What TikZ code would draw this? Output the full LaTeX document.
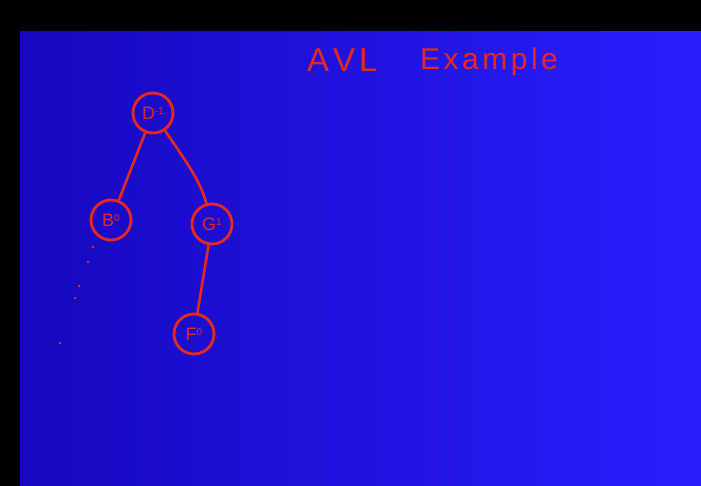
\documentclass[tikz,border=0pt]{standalone}
\usepackage{fontspec}
\setmainfont{Liberation Sans}
\definecolor{ink}{RGB}{232,40,30}
\definecolor{bgA}{RGB}{22,8,190}
\definecolor{bgB}{RGB}{42,30,255}
\newcommand{\bsup}[1]{\raisebox{5pt}{\fontsize{10}{10}\selectfont #1}}
\tikzset{
  tnode/.style={circle,draw=ink,line width=2.8pt,minimum size=40pt,inner sep=0pt,text=ink,font=\fontsize{18}{18}\selectfont},
  tedge/.style={draw=ink,line width=2.6pt},
  dot/.style={circle,fill=ink,inner sep=0pt,minimum size=2.8pt},
}
\begin{document}
\begin{tikzpicture}[x=1pt,y=-1pt]
\useasboundingbox (0,0) rectangle (701,486);
\fill[black] (0,0) rectangle (701,486);
\shade[left color=bgA,right color=bgB] (20,32) rectangle (701,486);
\node[text=ink,font=\fontsize{33}{33}\selectfont,anchor=base west,inner sep=0pt] (t1) at (307,72) {A\kern4pt V\kern4pt L};
\node[text=ink,font=\fontsize{30}{30}\selectfont,anchor=base west,inner sep=0pt] (t2) at (420,70) {E\kern3.5pt x\kern3.5pt a\kern3.5pt m\kern3.5pt p\kern3.5pt l\kern3.5pt e};
\node[tnode] (D) at (153,113) {D\bsup{-1}};
\node[tnode] (B) at (111,220) {B\bsup{0}};
\node[tnode] (G) at (212,224) {G\bsup{1}};
\node[tnode] (F) at (194,334) {F\bsup{0}};
\draw[tedge] (D) -- (B);
\draw[tedge] (D) .. controls (185,160) and (200,180) .. (G);
\draw[tedge] (G) -- (F);
\node[dot] (d1) at (93,247) {};
\node[dot] (d2) at (88,262) {};
\node[dot] (d3) at (79,286) {};
\node[dot] (d4) at (75,298) {};
\node[dot] (d5) at (60,343) {};
\end{tikzpicture}
\end{document}
